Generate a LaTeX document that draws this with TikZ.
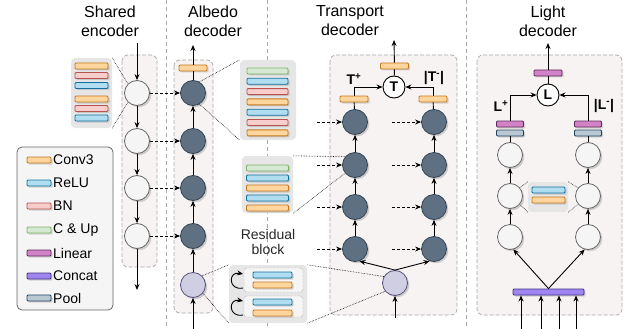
\documentclass[tikz,border=0pt]{standalone}
\usepackage{fontspec}
\setmainfont{Liberation Sans}
\usetikzlibrary{arrows.meta,shadows}

\definecolor{convF}{HTML}{FFD59E}
\definecolor{convD}{HTML}{C27A1E}
\definecolor{reluF}{HTML}{B1DDF0}
\definecolor{reluD}{HTML}{10739E}
\definecolor{bnF}{HTML}{F8CECC}
\definecolor{bnD}{HTML}{B85450}
\definecolor{cupF}{HTML}{D5E8D4}
\definecolor{cupD}{HTML}{82B366}
\definecolor{linF}{HTML}{D283C8}
\definecolor{linD}{HTML}{5E2A57}
\definecolor{catF}{HTML}{9F85F0}
\definecolor{catD}{HTML}{3F3380}
\definecolor{poolF}{HTML}{BAC8D3}
\definecolor{poolD}{HTML}{23445D}
\definecolor{encF}{HTML}{F5F5F5}
\definecolor{encD}{HTML}{666666}
\definecolor{decF}{HTML}{5F7082}
\definecolor{decD}{HTML}{314354}
\definecolor{resF}{HTML}{D0CEE2}
\definecolor{resD}{HTML}{56517E}
\definecolor{grpF}{HTML}{F7F3F3}
\definecolor{grpD}{HTML}{A8A8A8}
\definecolor{stkF}{HTML}{E6E6E6}

\begin{document}
\begin{tikzpicture}[x=1pt,y=-1pt,>={Stealth[length=6pt,width=5pt]}]
	\tikzstyle{every node}=[font=\fontsize{14}{15}\selectfont]
	\tikzstyle{grp}=[draw=grpD,fill=grpF,dash pattern=on 4pt off 2pt,rounded corners=6pt,line width=0.7pt]
	\tikzstyle{colsep}=[draw=grpD,dash pattern=on 4pt off 3pt,line width=0.6pt]
	\tikzstyle{stk}=[fill=stkF,rounded corners=4pt,inner sep=0pt]
	\tikzstyle{ball}=[circle,minimum size=25pt,inner sep=0pt,line width=0.8pt,drop shadow={shadow xshift=1.8pt,shadow yshift=-1.8pt,opacity=0.35}]
	\tikzstyle{enc}=[ball,fill=encF,draw=encD]
	\tikzstyle{dec}=[ball,fill=decF,draw=decD]
	\tikzstyle{res}=[ball,fill=resF,draw=resD]
	\tikzstyle{op}=[circle,minimum size=22pt,inner sep=0pt,draw=black,fill=white,line width=0.9pt,font=\fontsize{14}{15}\selectfont\bfseries]
	\tikzstyle{bar}=[rectangle,minimum height=6pt,minimum width=28pt,inner sep=0pt,line width=0.9pt,rounded corners=1pt,drop shadow={shadow xshift=1.5pt,shadow yshift=-1.5pt,opacity=0.3}]
	\tikzstyle{conv}=[bar,fill=convF,draw=convD]
	\tikzstyle{relu}=[bar,fill=reluF,draw=reluD]
	\tikzstyle{bn}=[bar,fill=bnF,draw=bnD]
	\tikzstyle{cup}=[bar,fill=cupF,draw=cupD]
	\tikzstyle{lin}=[bar,fill=linF,draw=linD]
	\tikzstyle{cat}=[bar,fill=catF,draw=catD]
	\tikzstyle{pool}=[bar,fill=poolF,draw=poolD]
	\tikzstyle{link}=[->,line width=0.9pt]
	\tikzstyle{skip}=[->,dash pattern=on 3pt off 2pt,line width=0.9pt]
	\tikzstyle{zoomline}=[densely dotted,line width=0.6pt]
	\tikzstyle{title}=[align=center,font=\fontsize{16}{19}\selectfont]

	\useasboundingbox (0,0) rectangle (632,329);

	% column separators
	\draw[colsep] (166,0) -- (166,329);
	\draw[colsep] (267,0) -- (267,329);
	\draw[colsep] (466,0) -- (466,329);

	% titles
	\node[title] (tenc) at (110,21) {Shared\\encoder};
	\node[title] (tabd) at (213,21) {Albedo\\decoder};
	\node[title] (ttra) at (350,21) {Transport\\decoder};
	\node[title] (tlgt) at (548,21) {Light\\decoder};

	% legend
	\draw[fill=encF,draw=encD,rounded corners=5pt,line width=0.8pt] (17,147) rectangle (113,310);
	\foreach \y/\s/\t [count=\i] in {160/conv/Conv3,183/relu/ReLU,206/bn/BN,230/cup/{C \& Up},253/lin/Linear,276/cat/Concat,298/pool/Pool}
	{
		\node[\s,minimum width=24pt] (key\i) at (39,\y) {};
		\node[anchor=west,inner sep=0pt] (lab\i) at (53,\y) {\t};
	}

	% shared encoder
	\draw[grp] (122,55) rectangle (157,267);
	\foreach \y [count=\i] in {93,141,188,236}
		\node[enc] (e\i) at (137,\y) {};
	\coordinate (ein) at (137,43);
	\coordinate (eout) at (137,290);
	\draw[link] (ein) -- (e1);
	\foreach \i/\j in {1/2,2/3,3/4}
		\draw[link] (e\i) -- (e\j);
	\draw[link] (e4) -- (eout);

	\node[stk,minimum width=41pt,minimum height=70pt] (est) at (91.5,93) {};
	\foreach \y/\s [count=\i] in {66/conv,75.5/bn,85.5/relu,99/conv,108.5/bn,118/relu}
		\node[\s,minimum width=33pt] (eb\i) at (91.5,\y) {};
	\draw[zoomline] (est.north east) -- (e1.135);
	\draw[zoomline] (est.south east) -- (e1.225);

	% albedo decoder
	\draw[grp] (174,60) rectangle (213,313);
	\foreach \y [count=\i] in {93,141,188,236}
		\node[dec] (a\i) at (193,\y) {};
	\node[res] (a5) at (193,285) {};
	\node[conv] (ab) at (193,68) {};
	\coordinate (ain) at (193,329);
	\coordinate (aout) at (193,45);
	\draw[link] (ain) -- (a5);
	\foreach \i/\j in {5/4,4/3,3/2,2/1}
		\draw[link] (a\i) -- (a\j);
	\draw[line width=0.9pt] (a1) -- (ab);
	\draw[link] (ab) -- (aout);
	\foreach \i in {1,...,4}
		\draw[skip] (e\i) -- (a\i);

	\node[stk,minimum width=56pt,minimum height=80pt] (ast) at (268,100) {};
	\foreach \y/\s [count=\i] in {71/cup,81.3/relu,91.6/bn,101.9/conv,112.2/relu,122.5/bn,132.8/conv}
		\node[\s,minimum width=41pt] (ab\i) at (267.5,\y) {};
	\draw[zoomline] (a1.60) -- (ast.north west);
	\draw[zoomline] (a1.-60) -- (ast.south west);

	% transport decoder
	\draw[grp] (330,55) rectangle (457,315);
	\foreach \y [count=\i] in {122,165,207,249}
	{
		\node[dec] (tl\i) at (355,\y) {};
		\node[dec] (tr\i) at (434,\y) {};
	}
	\node[res] (tres) at (395,283) {};
	\node[conv] (tbl) at (354,99) {};
	\node[conv] (tbr) at (433,99) {};
	\node[op] (top) at (394,87) {T};
	\node[conv] (ttb) at (394.5,66) {};
	\node[font=\fontsize{14}{15}\selectfont\bfseries] (tpos) at (354,79) {T\textsuperscript{+}};
	\node[font=\fontsize{14}{15}\selectfont\bfseries] (tneg) at (434,78) {|T\textsuperscript{-}|};
	\coordinate (tin) at (395,318);
	\coordinate (tout) at (394,40);
	\draw[link] (tin) -- (tres);
	\draw[link] (tres.north) -- (tl4.-70);
	\draw[link] (tres.north) -- (tr4.-110);
	\foreach \i/\j in {4/3,3/2,2/1}
	{
		\draw[link] (tl\i) -- (tl\j);
		\draw[link] (tr\i) -- (tr\j);
	}
	\draw[line width=0.9pt] (tl1) -- (tbl);
	\draw[line width=0.9pt] (tr1) -- (tbr);
	\draw[link] (tbl.north) |- (top);
	\draw[link] (tbr.north) |- (top);
	\draw[line width=0.9pt] (top) -- (ttb);
	\draw[link] (ttb) -- (tout);
	\foreach \y [count=\i] in {122,165,207,249}
	{
		\coordinate (sl\i) at (317,\y);
		\coordinate (sr\i) at (392,\y);
		\draw[skip] (sl\i) -- (tl\i);
		\draw[skip] (sr\i) -- (tr\i);
	}

	\node[stk,minimum width=51pt,minimum height=57pt] (tst) at (267.5,184.5) {};
	\foreach \y/\s [count=\i] in {168/cup,178/relu,188/conv,198/relu,208/conv}
		\node[\s,minimum width=42pt] (tb\i) at (267.5,\y) {};
	\draw[zoomline] (tst.north east) -- (tl2.140);
	\draw[zoomline] (tst.south east) -- (tl2.220);

	% residual block
	\node[align=center,text=black!85] (rlab) at (268,242) {Residual\\block};
	\node[stk,minimum width=78pt,minimum height=58pt] (rst) at (268,294) {};
	\node[draw=gray,densely dotted,fill=stkF!40!white,rounded corners=3pt,minimum width=59pt,minimum height=24pt,inner sep=0pt] (rb1) at (273.5,280) {};
	\node[draw=gray,densely dotted,fill=stkF!40!white,rounded corners=3pt,minimum width=59pt,minimum height=21pt,inner sep=0pt] (rb2) at (273.5,306.5) {};
	\foreach \y/\s [count=\i] in {275/relu,285/conv,302/relu,313/conv}
		\node[\s,minimum width=39pt] (rbar\i) at (272.5,\y) {};
	\draw[->,line width=0.9pt] (243,288) .. controls (228,291) and (228,271) .. (243,274);
	\draw[->,line width=0.9pt] (243,315) .. controls (228,318) and (228,298) .. (243,301);
	\draw[zoomline] (a5.45) -- (rst.north west);
	\draw[zoomline] (a5.-40) -- (rst.south west);
	\draw[zoomline] (tres.150) -- (rst.north east);
	\draw[zoomline] (tres.220) -- (rst.south east);

	% light decoder
	\draw[grp] (477,55) rectangle (622,315);
	\foreach \y [count=\i] in {155,196,237}
	{
		\node[enc] (ll\i) at (510,\y) {};
		\node[enc] (lr\i) at (588,\y) {};
	}
	\node[pool,minimum width=27pt] (lpl) at (510,133) {};
	\node[pool,minimum width=27pt] (lpr) at (588,133) {};
	\node[lin,minimum width=27pt] (lbl) at (510,124) {};
	\node[lin,minimum width=27pt] (lbr) at (588,124) {};
	\node[op] (lop) at (548,95) {L};
	\node[lin] (ltb) at (548,73) {};
	\node[font=\fontsize{14}{15}\selectfont\bfseries] (lpos) at (501,106) {L\textsuperscript{+}};
	\node[font=\fontsize{14}{15}\selectfont\bfseries] (lneg) at (604,106) {|L\textsuperscript{-}|};
	\coordinate (lout) at (548,43);
	\foreach \i/\j in {3/2,2/1}
	{
		\draw[link] (ll\i) -- (ll\j);
		\draw[link] (lr\i) -- (lr\j);
	}
	\draw[line width=0.9pt] (ll1) -- (lpl);
	\draw[line width=0.9pt] (lr1) -- (lpr);
	\draw[link] (lbl.north) |- (lop);
	\draw[link] (lbr.north) |- (lop);
	\draw[line width=0.9pt] (lop) -- (ltb);
	\draw[link] (ltb) -- (lout);

	\node[stk,minimum width=40pt,minimum height=30pt] (lst) at (548,197) {};
	\node[relu,minimum width=33pt] (lsb1) at (548.5,190) {};
	\node[conv,minimum width=33pt] (lsb2) at (548.5,200) {};
	\draw[zoomline] (lst.north west) -- (ll2.40);
	\draw[zoomline] (lst.south west) -- (ll2.-40);
	\draw[zoomline] (lst.north east) -- (lr2.140);
	\draw[zoomline] (lst.south east) -- (lr2.-140);

	\node[cat,minimum width=71pt] (lcat) at (548.5,292) {};
	\draw[link] (lcat.north) -- (ll3.-75);
	\draw[link] (lcat.north) -- (lr3.-105);
	\foreach \x [count=\i] in {521,541,559,576}
	{
		\coordinate (li\i) at (\x,329);
		\draw[link] (li\i) -- (li\i |- lcat.south);
	}
\end{tikzpicture}
\end{document}
